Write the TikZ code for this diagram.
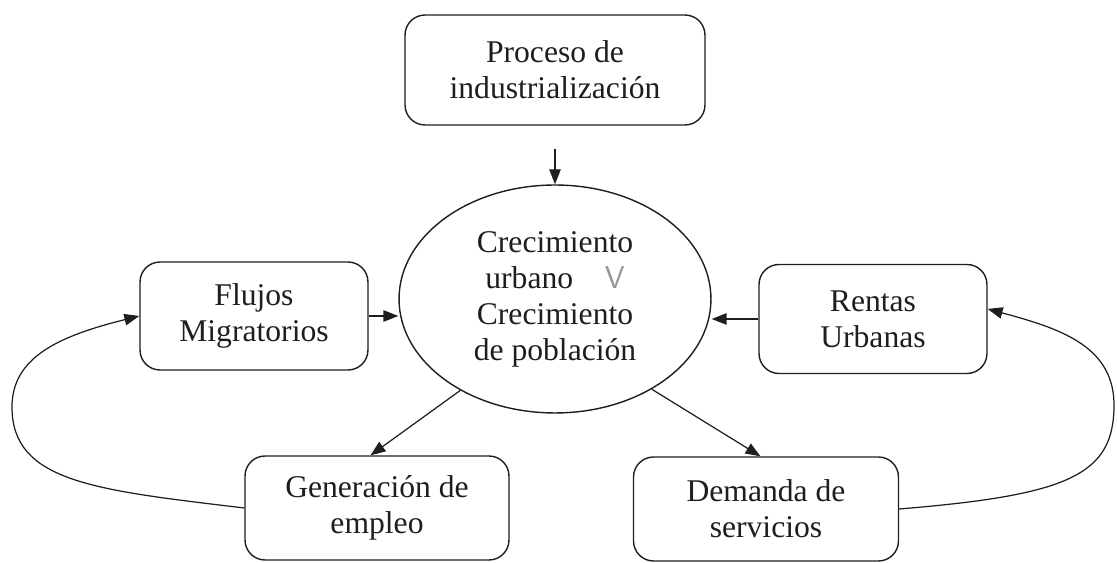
\documentclass[tikz,border=0pt]{standalone}
\usepackage{fontspec}
\setmainfont{Liberation Serif}
\usepackage{xcolor}
\usepackage{tikz}
\usetikzlibrary{arrows.meta,shapes.geometric}
\definecolor{inkgray}{RGB}{30, 30, 30}
\definecolor{softgray}{RGB}{150, 150, 150}

\begin{document}
\begin{tikzpicture}[
    x=0.02cm, y=-0.02cm,
    every node/.style={font=\fontsize{18}{20.5}\selectfont, text=inkgray},
    stepbox/.style={draw=inkgray, line width=0.8pt, rounded corners=0.4cm,
      align=center, inner sep=0pt},
    growth/.style={draw=inkgray, line width=0.8pt, ellipse, align=center,
      inner sep=0pt, minimum width=6.24cm, minimum height=4.56cm},
    link/.style={draw=inkgray, line width=0.7pt,
      -{Triangle[length=8.5pt, width=6.5pt]}}
  ]
  \useasboundingbox (0,0) rectangle (1117,563);

  % boxes
  \node[stepbox, minimum width=6cm, minimum height=2.2cm]
    (proc) at (555,70) {Proceso de\\industrialización};
  \node[growth] (ell) at (555,299)
    {Crecimiento\\urbano\quad{\sffamily\color{softgray}V}\\Crecimiento\\de población};
  \node[stepbox, minimum width=4.56cm, minimum height=2.16cm]
    (flujos) at (254,316) {Flujos\\Migratorios};
  \node[stepbox, minimum width=4.56cm, minimum height=2.18cm]
    (rentas) at (873,319) {Rentas\\Urbanas};
  \node[stepbox, minimum width=5.28cm, minimum height=2.08cm]
    (gen) at (377,508) {Generación de\\empleo};
  \node[stepbox, minimum width=5.3cm, minimum height=2.08cm]
    (dem) at (766,509) {Demanda de\\servicios};

  % bends of the loops
  \coordinate (lbend) at (12,407);
  \coordinate (rbend) at (1114,405);

  % arrows
  \draw[link, shorten <=0.46cm] (proc.south) -- (ell.north);
  \draw[link] (flujos.east) -- (flujos.east -| ell.west);
  \draw[link] (rentas.west) -- (rentas.west -| ell.east);
  \draw[link] (ell.224) -- (gen.97);
  \draw[link] (ell.317) -- (dem.96);

  \draw[link] (gen.west) .. controls +(-150,-18) and +(0,75) .. (lbend)
    .. controls +(0,-50) and +(-80,20) .. (flujos.west);
  \draw[link] (dem.east) .. controls +(170,-14) and +(0,70) .. (rbend)
    .. controls +(0,-60) and +(70,19) .. (rentas.5);
\end{tikzpicture}
\end{document}
